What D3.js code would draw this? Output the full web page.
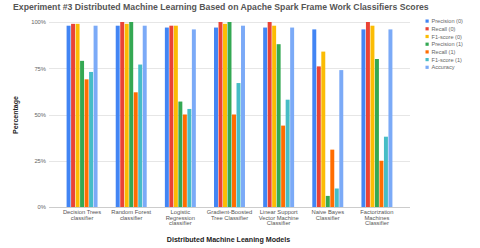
<!DOCTYPE html>
<html><head><meta charset="utf-8">
<script src="https://cdn.jsdelivr.net/npm/d3@7"></script>
<style>body{margin:0;background:#fff;}svg{display:block;font-family:"Liberation Sans",Arial,sans-serif;}</style>
</head><body><div id="chart"></div>
<script>
const categories = [
  ["Decision Trees","classifier"],
  ["Random Forest","classifier"],
  ["Logistic","Regression","classifier"],
  ["Gradient-Boosted","Tree Classifier"],
  ["Linear Support","Vector Machine","Classifier"],
  ["Naive Bayes","Classifier"],
  ["Factorization","Machines","Classifier"]
];
const seriesNames = ["Precision (0)","Recall (0)","F1-score (0)","Precision (1)","Recall (1)","F1-score (1)","Accuracy"];
const seriesColors = ["#4285f4","#ea4335","#fbbc04","#34a853","#ff6d01","#46bdc6","#7baaf7"];
const precision0 = [0.98,0.98,0.97,0.97,0.97,0.96,0.96];
const recall0    = [0.99,1.00,0.98,1.00,1.00,0.76,1.00];
const f1score0   = [0.99,0.99,0.98,0.99,0.98,0.84,0.98];
const precision1 = [0.79,1.00,0.57,1.00,0.88,0.06,0.80];
const recall1    = [0.69,0.62,0.50,0.50,0.44,0.31,0.25];
const f1score1   = [0.73,0.77,0.53,0.67,0.58,0.10,0.38];
const accuracy   = [0.98,0.98,0.96,0.98,0.97,0.74,0.96];
const yTicks = [0,0.25,0.5,0.75,1];
const series = [precision0,recall0,f1score0,precision1,recall1,f1score1,accuracy];

const W=480,H=248;
const svg=d3.select("#chart").append("svg").attr("width",W).attr("height",H);
const gridL=49, gridR=410;
const x=d3.scaleBand().domain(d3.range(categories.length)).range([57.5,401.5]).paddingInner(0.37).paddingOuter(0.185);
const xs=d3.scaleBand().domain(d3.range(seriesNames.length)).range([0,x.bandwidth()]).paddingInner(0.12);
const y=d3.scaleLinear().domain([0,1]).range([207,22]);

// title
svg.append("text").attr("x",13).attr("y",10).attr("font-size",8.7).attr("font-weight","bold").attr("fill","#555")
  .text("Experiment #3 Distributed Machine Learning Based on Apache Spark Frame Work Classifiers Scores");

// gridlines
svg.append("g").selectAll("line").data(yTicks.filter(d=>d>0)).join("line")
  .attr("x1",gridL).attr("x2",gridR).attr("y1",d=>Math.round(y(d))+0.5).attr("y2",d=>Math.round(y(d))+0.5)
  .attr("stroke","#e6e6e6").attr("stroke-width",1);

// y axis labels via axis
const yAxis=d3.axisLeft(y).tickValues(yTicks).tickFormat(d3.format(".0%")).tickSize(0).tickPadding(3);
const ya=svg.append("g").attr("transform",`translate(${gridL},0)`).call(yAxis);
ya.select(".domain").remove();
ya.selectAll("text").attr("font-size",5.8).attr("fill","#666").attr("font-family","Liberation Sans, Arial, sans-serif");

// bars
const g=svg.append("g");
categories.forEach((c,i)=>{
  series.forEach((s,j)=>{
    g.append("rect").attr("x",x(i)+xs(j)).attr("width",xs.bandwidth())
      .attr("y",y(s[i])).attr("height",y(0)-y(s[i])).attr("fill",seriesColors[j]);
  });
});

// baseline
svg.append("line").attr("x1",gridL).attr("x2",gridR).attr("y1",207.5).attr("y2",207.5).attr("stroke","#ccc").attr("stroke-width",1);

// x labels
const xa=svg.append("g");
categories.forEach((lines,i)=>{
  const t=xa.append("text").attr("x",x(i)+x.bandwidth()/2).attr("y",214).attr("text-anchor","middle")
    .attr("font-size",5.8).attr("fill","#555");
  lines.forEach((l,k)=>t.append("tspan").attr("x",x(i)+x.bandwidth()/2).attr("dy",k===0?0:5.6).text(l));
});

// axis titles
svg.append("text").attr("x",228.5).attr("y",241.5).attr("text-anchor","middle").attr("font-size",7.1)
  .attr("font-weight","bold").attr("fill","#222").text("Distributed Machine Leaning Models");
svg.append("text").attr("transform","translate(17.5,115) rotate(-90)").attr("text-anchor","middle")
  .attr("font-size",7).attr("font-weight","bold").attr("fill","#222").text("Percentage");

// legend
const lg=svg.append("g");
seriesNames.forEach((n,j)=>{
  const yy=21.3+j*7.7;
  lg.append("rect").attr("x",425.5).attr("y",yy-1.8).attr("width",3.2).attr("height",3.2).attr("fill",seriesColors[j]);
  lg.append("text").attr("x",431.5).attr("y",yy+1.9).attr("font-size",5.6).attr("fill","#666").text(n);
});
</script></body></html>
